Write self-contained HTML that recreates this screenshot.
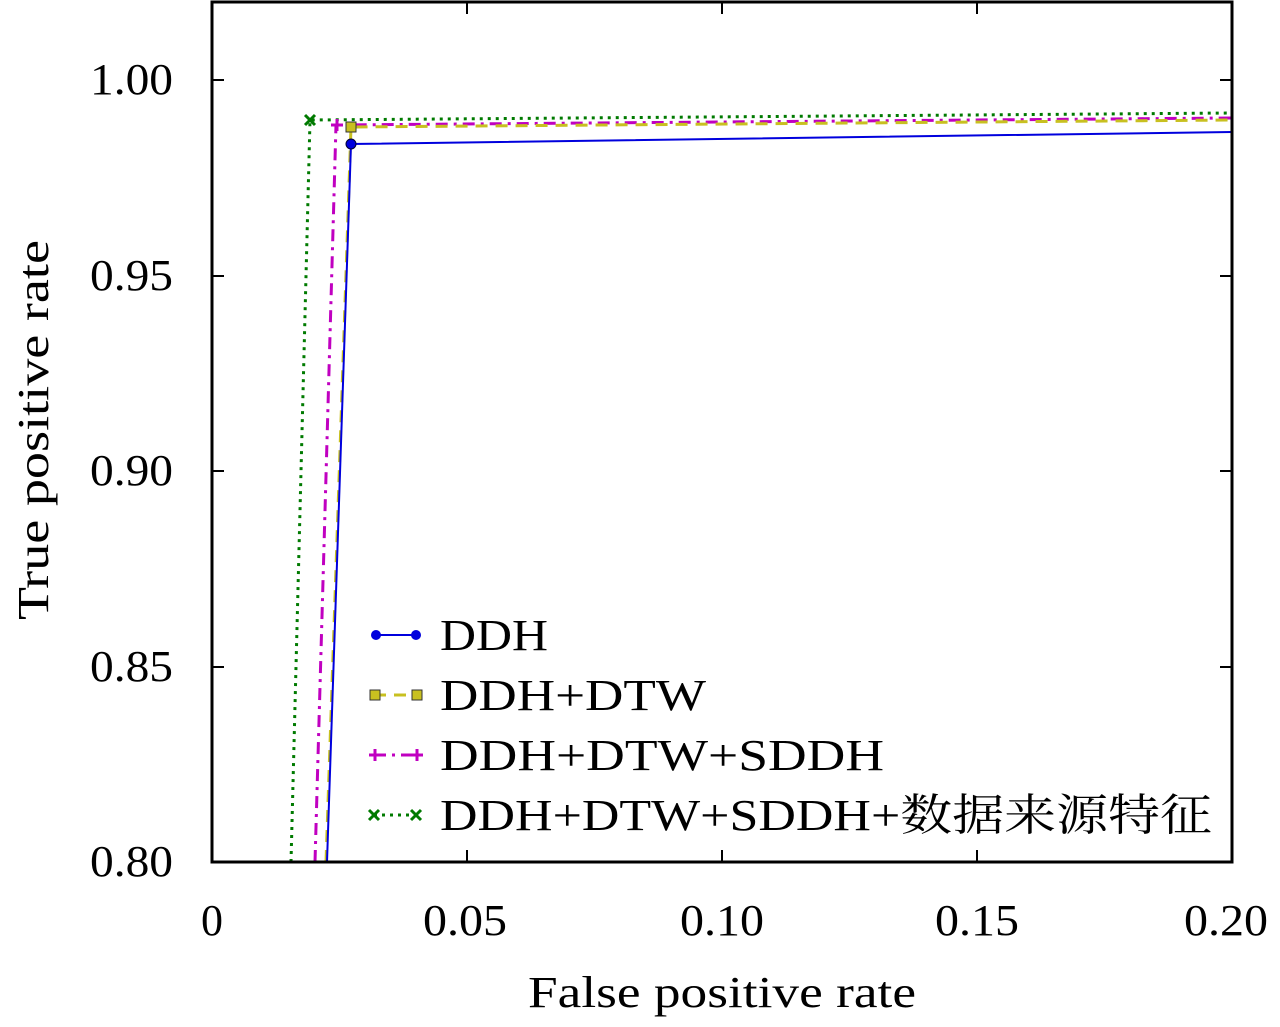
<!DOCTYPE html>
<html><head><meta charset="utf-8"><style>body{margin:0;background:#fff}</style></head><body>
<svg width="1280" height="1022" xmlns="http://www.w3.org/2000/svg" font-family="Liberation Serif, Noto Serif CJK SC, serif" font-size="44">
<rect width="1280" height="1022" fill="#fff"/>
<g stroke="#000" stroke-width="2">
<line x1="212" y1="80" x2="224" y2="80"/><line x1="212" y1="276" x2="224" y2="276"/><line x1="212" y1="471" x2="224" y2="471"/><line x1="212" y1="667" x2="224" y2="667"/>
<line x1="1232" y1="80" x2="1220" y2="80"/><line x1="1232" y1="276" x2="1220" y2="276"/><line x1="1232" y1="471" x2="1220" y2="471"/><line x1="1232" y1="667" x2="1220" y2="667"/>
<line x1="467" y1="862" x2="467" y2="850"/><line x1="722" y1="862" x2="722" y2="850"/><line x1="977" y1="862" x2="977" y2="850"/>
<line x1="467" y1="2" x2="467" y2="14"/><line x1="722" y1="2" x2="722" y2="14"/><line x1="977" y1="2" x2="977" y2="14"/>
</g>
<polyline points="291,862 310,120 1232,113" fill="none" stroke="#007a00" stroke-width="3" stroke-dasharray="3,5"/>
<polyline points="315,862 336,125 1232,118" fill="none" stroke="#c000c0" stroke-width="3" stroke-dasharray="12,6,3,6"/>
<polyline points="326,862 351,127 1232,120" fill="none" stroke="#c8c020" stroke-width="3" stroke-dasharray="12,8"/>
<polyline points="327,862 351,144 1232,132" fill="none" stroke="#0000dd" stroke-width="2"/>
<g stroke="#007a00" stroke-width="3"><line x1="305" y1="115" x2="315" y2="125"/><line x1="305" y1="125" x2="315" y2="115"/></g>
<g stroke="#c000c0" stroke-width="3"><line x1="331" y1="125" x2="343" y2="125"/><line x1="337" y1="119" x2="337" y2="131"/></g>
<rect x="346" y="122" width="10" height="10" fill="#c8c020" stroke="#333" stroke-width="1"/>
<circle cx="351" cy="144" r="5" fill="#0000dd" stroke="#003" stroke-width="1"/>
<rect x="212" y="2" width="1020" height="860" fill="none" stroke="#000" stroke-width="3"/>
<g text-anchor="end" lengthAdjust="spacingAndGlyphs"><text x="173" y="94" textLength="83" lengthAdjust="spacingAndGlyphs">1.00</text><text x="173" y="290" textLength="83" lengthAdjust="spacingAndGlyphs">0.95</text><text x="173" y="485" textLength="83" lengthAdjust="spacingAndGlyphs">0.90</text><text x="173" y="681" textLength="83" lengthAdjust="spacingAndGlyphs">0.85</text><text x="173" y="876" textLength="83" lengthAdjust="spacingAndGlyphs">0.80</text></g>
<g text-anchor="middle"><text x="212" y="935">0</text><text x="465" y="935" textLength="84" lengthAdjust="spacingAndGlyphs">0.05</text><text x="722" y="935" textLength="84" lengthAdjust="spacingAndGlyphs">0.10</text><text x="977" y="935" textLength="84" lengthAdjust="spacingAndGlyphs">0.15</text><text x="1226" y="935" textLength="84" lengthAdjust="spacingAndGlyphs">0.20</text></g>
<text x="528" y="1007" textLength="388" lengthAdjust="spacingAndGlyphs">False positive rate</text>
<text transform="translate(48,620) rotate(-90)" textLength="380" lengthAdjust="spacingAndGlyphs">True positive rate</text>
<line x1="374" y1="635" x2="418" y2="635" stroke="#0000dd" stroke-width="2"/>
<circle cx="376" cy="635" r="5" fill="#0000dd"/><circle cx="416" cy="635" r="5" fill="#0000dd"/>
<line x1="374" y1="695" x2="418" y2="695" stroke="#c8c020" stroke-width="3" stroke-dasharray="12,8"/>
<rect x="370" y="690" width="10" height="10" fill="#c8c020" stroke="#333"/><rect x="412" y="690" width="10" height="10" fill="#c8c020" stroke="#333"/>
<line x1="374" y1="755" x2="418" y2="755" stroke="#c000c0" stroke-width="3" stroke-dasharray="12,6,3,6"/>
<g stroke="#c000c0" stroke-width="3"><line x1="369" y1="755" x2="381" y2="755"/><line x1="375" y1="749" x2="375" y2="761"/><line x1="411" y1="755" x2="423" y2="755"/><line x1="417" y1="749" x2="417" y2="761"/></g>
<line x1="374" y1="815" x2="418" y2="815" stroke="#007a00" stroke-width="3" stroke-dasharray="3,5"/>
<g stroke="#007a00" stroke-width="3"><line x1="369" y1="810" x2="379" y2="820"/><line x1="369" y1="820" x2="379" y2="810"/><line x1="411" y1="810" x2="421" y2="820"/><line x1="411" y1="820" x2="421" y2="810"/></g>
<text x="440" y="650" textLength="108" lengthAdjust="spacingAndGlyphs">DDH</text><text x="440" y="710" textLength="266" lengthAdjust="spacingAndGlyphs">DDH+DTW</text><text x="440" y="770" textLength="444" lengthAdjust="spacingAndGlyphs">DDH+DTW+SDDH</text><text x="440" y="830" textLength="772" lengthAdjust="spacingAndGlyphs">DDH+DTW+SDDH+数据来源特征</text>
</svg>
</body></html>
